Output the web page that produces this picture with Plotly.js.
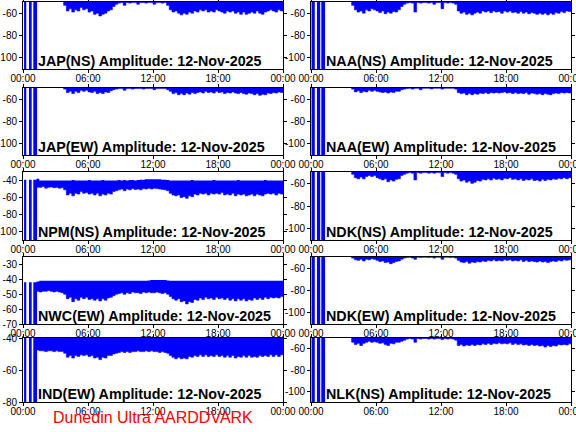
<!DOCTYPE html>
<html><head><meta charset="utf-8">
<script src="https://cdn.plot.ly/plotly-3.0.1.min.js"></script>
<style>html,body{margin:0;padding:0;background:#fff;overflow:hidden;} #chart{width:600px;height:432px;}</style>
</head><body><div id="chart"></div>
<script>
// ---------------- data ----------------
const dateLabel = '12-Nov-2025';
const footerText = 'Dunedin Ultra AARDDVARK';
const xTickVals = [0, 6, 12, 18, 24];
const xTickText = ['00:00', '06:00', '12:00', '18:00', '00:00'];

// sample times (hours UT) of the envelope readings, 1.25 .. 24 every 15 min
const hours = [1.25,1.5,1.75,2,2.25,2.5,2.75,3,3.25,3.5,3.75,4,4.25,4.5,4.75,5,5.25,5.5,5.75,6,6.25,6.5,6.75,7,7.25,7.5,7.75,8,8.25,8.5,8.75,9,9.25,9.5,9.75,10,10.25,10.5,10.75,11,11.25,11.5,11.75,12,12.25,12.5,12.75,13,13.25,13.5,13.75,14,14.25,14.5,14.75,15,15.25,15.5,15.75,16,16.25,16.5,16.75,17,17.25,17.5,17.75,18,18.25,18.5,18.75,19,19.25,19.5,19.75,20,20.25,20.5,20.75,21,21.25,21.5,21.75,22,22.25,22.5,22.75,23,23.25,23.5,23.75,24];

// dropouts at start of day (hours)
const dropStartL = [0.1, 0.55, 0.95];
const dropEndL   = [0.3, 0.8, 1.3];
const dropStartR = [0.05, 0.55, 0.95];
const dropEndR   = [0.35, 0.85, 1.3];

// lower / upper envelope of amplitude (dB)
const JAP_NS_lo = [-48,-48,-48,-48,-48,-48,-48,-48,-48,-48,
  -53,-58,-56,-59,-57,-58,-55,-57,-56,-59,-58,-61,-60,-62.5,-61,-60,-58,-57,-54,-52,
  -51,-50.5,-53,-50.5,-51,-50.5,-50.5,-52,-50.5,-50.5,-51,-50.5,-50.5,-52,-50.5,-50.5,-51,-50.5,-53,
  -57,-59,-58,-60,-61.5,-60,-61,-59,-60,-58,-59,-57,-58,-57,-59,-58,-59,-57,-58,-59,-60,-58,-59,-58,-60,-59,-61,-59,-61,-60,-59,-60,-58,-60,-61,-59,-58,-57,-58,-59,-57,-58,-55];
const JAP_EW_lo = [-48,-48,-48,-48,-48,-48,-48,-48,-48,-48,
  -51,-54,-53,-55,-53,-54,-52,-53,-52,-53.5,-54,-53,-55,-54,-55,-53.5,-54,-52.5,-51.5,-51,
  -50.5,-50.5,-52,-50.5,-50.5,-51,-50.5,-50.5,-50.5,-51,-50.5,-50.5,-50.5,-51.5,-50.5,-50.5,-50.5,-50.5,-51.5,
  -53,-55,-54,-56,-55,-56,-54.5,-55.5,-54,-55,-54,-53.5,-54.5,-53,-54,-53.5,-54.5,-53,-54,-53.5,-55,-54,-54.5,-53.5,-54.5,-55,-54,-55,-55.5,-54.5,-55,-56,-55,-56.5,-55.5,-56,-54.5,-55,-54,-54.5,-53.5,-54,-53];
const NPM_NS_hi = [-38,-40,-40,-40,-40,-40,-40,-40,-40,-40,
  -40,-40,-40,-39.5,-40,-40,-40,-40,-40,-39.5,-40,-40,-40,-40,-39.5,-40,-40,-40,-40,-40,
  -39.5,-40,-39.5,-40,-39.5,-39.5,-40,-39.5,-39,-39,-38.5,-38.5,-38.5,-38.5,-38.5,-38.5,-39,-39,-39.5,
  -40,-40,-40,-40,-40,-40,-40,-40,-39.5,-40,-40,-40,-40,-40,-40,-40,-39.5,-40,-40,-40,-40,-40,-40,-40,-40,-39.5,-40,-40,-40,-40,-40,-40,-40,-40,-40,-39.5,-40,-40,-40,-40,-40,-40,-40];
const NPM_NS_lo = [-48,-48,-47,-49,-48,-47.5,-48.5,-48,-49,-48.5,
  -51,-57,-55,-58,-55,-56,-53,-55,-54,-56,-55,-57,-55,-58,-56,-57,-55,-56,-53,-52,
  -51,-50,-52,-50,-51,-49.5,-50.5,-50,-51,-49.5,-50,-49,-50,-49,-49.5,-50,-50.5,-51,-52,
  -55,-57,-58,-57,-60,-59,-61,-58,-59,-56,-57,-55,-56,-55,-57,-55,-56,-55,-56,-54,-57,-56,-57,-55,-58,-56,-57,-56,-58,-57,-56,-58,-56,-57,-58,-56,-55,-56,-55,-57,-55,-56,-54];
const NWC_EW_hi = [-41.5,-41,-41,-41,-41,-41,-41,-41,-41,-41,
  -41,-41,-41,-41,-41,-41,-41,-41,-41,-41,-41,-41,-41,-41,-41,-41,-41,-41,-41,-41,
  -41,-41,-41,-41,-41,-41,-41,-41,-41,-41,-41,-40.8,-40.5,-40.5,-40.5,-40.5,-40.5,-40.5,-40.8,
  -41,-41,-41,-41,-41,-41,-41,-41,-41,-41,-41,-41,-41,-41,-41,-41,-41,-41,-41,-41,-41,-41,-41,-41,-41,-41,-41,-41,-41,-41,-41,-41,-41,-41,-41,-41,-41,-41,-41,-41,-41,-41,-41];
const NWC_EW_lo = [-48,-48.5,-48,-48,-47.5,-48,-48.5,-48,-48.5,-49,
  -50,-53,-52,-55,-53,-54,-52,-53,-52,-53.5,-53,-54,-53,-54.5,-53,-54,-52.5,-52,-51,-50,
  -49.5,-49,-50,-49,-49.5,-48.5,-49,-49,-49.5,-48.5,-49,-48.5,-49,-49,-48.5,-49,-49.5,-49,-50,
  -51.5,-53,-54,-53,-55,-54.5,-56.5,-55,-55.5,-53.5,-54,-52.5,-53.5,-52,-53,-52.5,-53.5,-52,-53,-52.5,-53.5,-52.5,-54,-53,-54.5,-53,-54,-53,-54.5,-53.5,-54,-52.5,-53.5,-52.5,-53.5,-52,-53,-52,-52.5,-52,-52.5,-51.5,-50];
const IND_EW_hi = [-40,-40,-40,-40,-40,-40,-40,-40,-40,-40,
  -40,-40,-40,-40,-40,-40,-40,-40,-40,-40,-40,-40,-40,-40,-40,-40,-40,-40,-40,-40,
  -40,-40,-40,-40,-40,-40,-40,-40,-40,-40,-40,-40,-40,-40,-40,-40,-40,-40,-40,
  -40,-40,-40,-40,-40,-40,-40,-40,-40,-40,-40,-40,-40,-40,-40,-40,-40,-40,-40,-40,-40,-40,-40,-40,-40,-40,-40,-40,-40,-40,-40,-40,-40,-40,-40,-40,-40,-40,-40,-40,-40,-40,-40];
const IND_EW_lo = [-47.5,-48,-48,-48.5,-48,-48,-48.5,-48,-48.5,-48.5,
  -49.5,-52,-51,-52.5,-51,-51.5,-50.5,-51,-50.5,-51.5,-51,-52.5,-52,-53.5,-52,-52.5,-51,-51,-50,-49.5,
  -49,-48.5,-49,-48.5,-49,-48.5,-48.5,-48,-48.5,-48.5,-48,-48.5,-48,-48.5,-48.5,-49,-48.5,-49,-49.5,
  -51,-52,-53,-52,-53,-52.5,-53,-51.5,-52,-51,-51.5,-50.5,-51.5,-50.5,-51.5,-51,-51.5,-50.5,-51.5,-51,-52,-51,-52,-51,-52.5,-51.5,-52,-51,-52,-51,-52,-51.5,-52,-51,-51.5,-51,-51.5,-50.5,-51.5,-50.5,-51.5,-50.5,-50];
const NAA_NS_lo = [-48,-48,-48,-48,-48,-48,-48,-48,-48,-48,
  -53,-57,-59,-58,-60,-57,-58,-56,-57,-58,-59.5,-58,-60.5,-59,-60,-58.5,-59,-57,-54,-52,
  -51,-50.5,-51,-59,-50.5,-51,-50.5,-50.5,-51,-50.5,-52,-50.5,-50.5,-56,-50.5,-51,-50.5,-51,-52,
  -58,-60,-59,-61,-60,-61.5,-60,-59,-60,-58,-59,-58,-59.5,-58,-59,-58.5,-60,-58,-59,-58,-59.5,-59,-60,-58.5,-60,-59,-60.5,-59.5,-60,-61,-60,-61,-60,-61.5,-60,-61,-59.5,-60,-58.5,-59.5,-58,-58.5,-56];
const NAA_EW_lo = [-48,-48,-48,-48,-48,-48,-48,-48,-48,-48,
  -51,-53.5,-52.5,-54,-53,-53.5,-52,-53,-52,-53,-53.5,-54,-53.5,-54.5,-53.5,-54,-53,-53,-51.5,-51,
  -50.5,-50.3,-51,-50.3,-50.3,-51.5,-50.3,-50.3,-50.3,-50.8,-50.3,-50.3,-50.3,-51,-50.3,-50.3,-50.3,-50.3,-51,
  -54,-55,-54.5,-56,-55,-56,-55,-55.5,-54.5,-55,-54,-55,-54,-54.5,-54,-54.5,-54,-53.5,-54.5,-54,-55,-54,-55,-54.5,-55,-54,-55.5,-54.5,-55,-55.5,-55,-56,-55,-55.5,-56,-55,-54.5,-55,-54,-54.5,-54,-54.5,-53];
const NDK_NS_lo = [-48,-48,-48,-48,-48,-48,-48,-48,-48,-48,
  -52,-55,-56,-54.5,-56,-54,-53,-54,-53,-55,-56,-57,-56,-58.5,-57,-58,-56.5,-56,-53,-52,
  -51,-50.5,-51,-57,-50.5,-51,-50.5,-50.5,-51,-50.5,-51,-50.5,-50.5,-54,-50.5,-51,-50.5,-51,-52,
  -56,-58,-57,-59,-58,-60,-59,-57.5,-58,-56.5,-57,-56,-57,-55.5,-56.5,-56,-57,-55.5,-56,-55,-56.5,-56,-57,-56,-57.5,-56.5,-57,-56,-57.5,-57,-58,-56.5,-57.5,-56.5,-57,-56,-56.5,-55.5,-56,-55,-56,-55,-54];
const NDK_EW_lo = [-48,-48,-48,-48,-48,-48,-48,-48,-48,-48,
  -51,-52.5,-53,-52,-53.5,-52,-52.5,-51.5,-52,-53,-54,-53.5,-55,-54.5,-56,-55,-54,-53.5,-52,-51,
  -50.5,-50.3,-51,-52,-50.3,-50.5,-50.3,-50.3,-50.5,-50.3,-51,-50.3,-50.3,-52,-50.3,-50.3,-50.5,-50.3,-51,
  -53,-54.5,-55,-54,-55.5,-54.5,-55,-54,-54.5,-53.5,-54,-53,-53.5,-52.5,-53.5,-53,-53.5,-52.5,-53,-52.5,-53.5,-53,-53.5,-52.5,-54,-53,-54,-53.5,-54,-54.5,-53.5,-54.5,-54,-55,-54,-53.5,-54,-53,-53.5,-52.5,-53,-52.5,-52];
const NLK_NS_lo = [-48,-48,-48,-48,-48,-48,-48,-48,-48,-48,
  -54,-56,-55,-57,-55,-54,-53,-54,-53.5,-54,-55,-54.5,-56,-57,-55,-55.5,-54,-54,-53,-52,
  -51,-50.5,-51,-54,-50.5,-51,-50.5,-50.5,-51,-50.5,-51,-50.5,-50.5,-51.5,-50.5,-51,-50.5,-51,-52,
  -57,-56,-57.5,-56.5,-57,-56,-57,-56,-56.5,-55.5,-56,-55,-56,-55,-55.5,-54.5,-55.5,-55,-55.5,-54.5,-56,-55,-56,-55.5,-56.5,-56,-57,-56,-57,-56.5,-57.5,-57,-58.5,-57,-58,-57,-57.5,-56,-56.5,-56,-56.5,-55.5,-55];

// ---------------- layout config ----------------
const W = 600, H = 432;       // canvas a bit wider than the 576 px window so edge tick labels are cut, not dropped
const colPx = {L: [23, 283], R: [311, 571]};
const rowPx = [[2, 69], [88, 155], [172, 240], [257, 324], [338, 402]];
const CEIL = -30; // clipped data above visible range
const BLUE = '#0000ff';
const FONT = 'Liberation Sans, Arial, Helvetica, sans-serif';

const panels = [
  {name: 'JAP(NS)', col: 'L', row: 0, lo: JAP_NS_lo, hi: null, yr: [-110, -50], yt: [-100, -80, -60], dropTop: CEIL},
  {name: 'NAA(NS)', col: 'R', row: 0, lo: NAA_NS_lo, hi: null, yr: [-110, -50], yt: [-100, -80, -60], dropTop: CEIL},
  {name: 'JAP(EW)', col: 'L', row: 1, lo: JAP_EW_lo, hi: null, yr: [-110, -50], yt: [-100, -80, -60], dropTop: CEIL},
  {name: 'NAA(EW)', col: 'R', row: 1, lo: NAA_EW_lo, hi: null, yr: [-110, -50], yt: [-100, -80, -60], dropTop: CEIL},
  {name: 'NPM(NS)', col: 'L', row: 2, lo: NPM_NS_lo, hi: NPM_NS_hi, yr: [-110, -30], yt: [-100, -80, -60, -40], dropTop: -39},
  {name: 'NDK(NS)', col: 'R', row: 2, lo: NDK_NS_lo, hi: null, yr: [-110, -50], yt: [-100, -80, -60], dropTop: CEIL},
  {name: 'NWC(EW)', col: 'L', row: 3, lo: NWC_EW_lo, hi: NWC_EW_hi, yr: [-70, -25], yt: [-70, -60, -50, -40, -30], dropTop: -42},
  {name: 'NDK(EW)', col: 'R', row: 3, lo: NDK_EW_lo, hi: null, yr: [-110, -50], yt: [-100, -80, -60], dropTop: CEIL},
  {name: 'IND(EW)', col: 'L', row: 4, lo: IND_EW_lo, hi: IND_EW_hi, yr: [-80, -40], yt: [-80, -60, -40], dropTop: CEIL},
  {name: 'NLK(NS)', col: 'R', row: 4, lo: NLK_NS_lo, hi: null, yr: [-110, -50], yt: [-100, -80, -60], dropTop: CEIL}
];

const traces = [];
const layout = {
  width: W, height: H, margin: {l: 0, r: 0, t: 0, b: 0},
  paper_bgcolor: '#fff', plot_bgcolor: '#fff', showlegend: false,
  font: {family: FONT, size: 10, color: '#000'},
  annotations: []
};

panels.forEach((p, i) => {
  const k = i + 1;
  const sfx = k === 1 ? '' : String(k);
  const xa = 'x' + sfx, ya = 'y' + sfx;
  const cx = colPx[p.col], ry = rowPx[p.row];
  const axBase = {
    ticks: 'outside', ticklen: 3, tickwidth: 1, tickcolor: '#000',
    showline: true, linecolor: '#000', linewidth: 1, mirror: 'ticks',
    showgrid: false, zeroline: false, fixedrange: true,
    tickfont: {family: FONT, size: 10, color: '#000'}
  };
  layout['xaxis' + sfx] = Object.assign({}, axBase, {
    domain: [cx[0] / W, cx[1] / W], range: [0, 24], anchor: ya,
    tickmode: 'array', tickvals: xTickVals, ticktext: xTickText, ticklabelstandoff: -3
  });
  layout['yaxis' + sfx] = Object.assign({}, axBase, {
    domain: [1 - ry[1] / H, 1 - ry[0] / H], range: p.yr, anchor: xa,
    tickmode: 'array', tickvals: p.yt, ticktext: p.yt.map(v => String(v))
  });
  const hi = p.hi ? p.hi : hours.map(() => CEIL);
  traces.push({x: hours, y: hi, xaxis: xa, yaxis: ya, mode: 'lines', line: {width: 0, color: BLUE, shape: 'hv'}, hoverinfo: 'skip'});
  traces.push({x: hours, y: p.lo, xaxis: xa, yaxis: ya, mode: 'lines', fill: 'tonexty', fillcolor: BLUE, line: {width: 0.6, color: BLUE, shape: 'hv'}, hoverinfo: 'skip'});
  const ds = p.col === 'L' ? dropStartL : dropStartR, de = p.col === 'L' ? dropEndL : dropEndR;
  const rx = [], rY = [];
  ds.forEach((s, j) => {
    rx.push(s, s, de[j], de[j], s, null);
    rY.push(-200, p.dropTop, p.dropTop, -200, -200, null);
  });
  traces.push({x: rx, y: rY, xaxis: xa, yaxis: ya, mode: 'lines', fill: 'toself', fillcolor: BLUE, line: {width: 0, color: BLUE}, hoverinfo: 'skip'});
  layout.annotations.push({
    xref: xa + ' domain', yref: ya + ' domain', x: 0.05, y: 0, xanchor: 'left', yanchor: 'bottom', yshift: -2,
    text: '<b>' + p.name + ' Amplitude: ' + dateLabel + '</b>', showarrow: false,
    font: {family: FONT, size: 14.3, color: '#000'}
  });
});

layout.annotations.push({
  xref: 'paper', yref: 'paper', x: 153 / W, y: 1 - 417 / H, xanchor: 'center', yanchor: 'middle',
  text: footerText, showarrow: false, font: {family: FONT, size: 16, color: '#ff0000'}
});

Plotly.newPlot('chart', traces, layout, {staticPlot: true, displayModeBar: false});
</script></body></html>
